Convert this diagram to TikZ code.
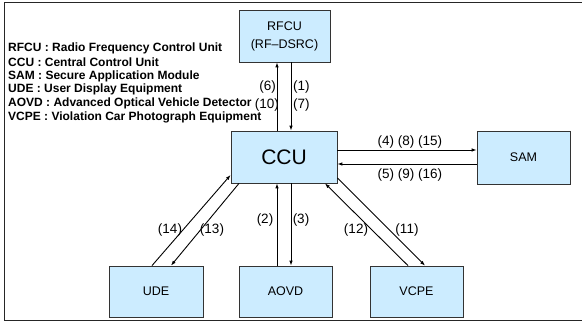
\documentclass[tikz,border=0pt]{standalone}
\usepackage{fontspec}
\setmainfont{Liberation Sans}
\usetikzlibrary{arrows.meta,calc}
\definecolor{boxfill}{RGB}{204,236,255}
\begin{document}
\begin{tikzpicture}[x=1pt,y=-1pt,
 box/.style={draw=black!80,line width=0.8pt,fill=boxfill,inner sep=0pt,align=center,font=\fontsize{12.5}{18}\selectfont},
 arr/.style={-{Latex[length=5pt,width=3.6pt]},line width=0.9pt},
 lbl/.style={font=\fontsize{13.5}{14}\selectfont,inner sep=0pt},
 leg/.style={font=\bfseries\fontsize{12}{12}\selectfont,anchor=west,inner sep=0pt},
 frame/.style={line width=1.6pt,black!85}]
\useasboundingbox (0,0) rectangle (582,324);
\clip (0,0) rectangle (582,324);
% frame
\draw[frame] (590,2.5) -- (4.5,2.5) -- (4.5,320.5) -- (590,320.5);
% legend
\node[leg] (l1) at (8,48) {RFCU : Radio Frequency Control Unit};
\node[leg] (l2) at (8,62) {CCU : Central Control Unit};
\node[leg] (l3) at (8,76) {SAM : Secure Application Module};
\node[leg] (l4) at (8,89) {UDE : User Display Equipment};
\node[leg] (l5) at (8,103) {AOVD : Advanced Optical Vehicle Detector};
\node[leg] (l6) at (8,117) {VCPE : Violation Car Photograph Equipment};
% boxes
\node[box,minimum width=91pt,minimum height=52pt] (rfcu) at (284.5,36) {RFCU\\(RF--DSRC)};
\node[box,minimum width=106pt,minimum height=52pt,font=\fontsize{21}{22}\selectfont] (ccu) at (284,157) {CCU};
\node[box,minimum width=93pt,minimum height=53pt] (sam) at (523.5,157.5) {SAM};
\node[box,minimum width=94pt,minimum height=51pt] (ude) at (156,291.5) {UDE};
\node[box,minimum width=93pt,minimum height=51pt] (aovd) at (285.5,291.5) {AOVD};
\node[box,minimum width=93pt,minimum height=51pt] (vcpe) at (416.5,291.5) {VCPE};
% RFCU <-> CCU
\draw[arr] ([xshift=-7pt]ccu.north) -- ([xshift=-7pt]ccu.north |- rfcu.south);
\draw[arr] ([xshift=7pt]ccu.north |- rfcu.south) -- ([xshift=7pt]ccu.north);
\node[lbl,anchor=east] (t6) at (276,87) {(6)};
\node[lbl,anchor=east] (t10) at (279,105) {(10)};
\node[lbl,anchor=west] (t1) at (293,87) {(1)};
\node[lbl,anchor=west] (t7) at (293,105) {(7)};
% CCU <-> SAM
\draw[arr] ([yshift=7pt]ccu.east) -- ([yshift=7pt]ccu.east -| sam.west);
\draw[arr] ([yshift=-7pt]ccu.east -| sam.west) -- ([yshift=-7pt]ccu.east);
\node[lbl] (t4) at (410,142) {(4) (8) (15)};
\node[lbl] (t5) at (410,175) {(5) (9) (16)};
% CCU <-> AOVD
\draw[arr] ([xshift=-7pt]ccu.south |- aovd.north) -- ([xshift=-7pt]ccu.south);
\draw[arr] ([xshift=7pt]ccu.south) -- ([xshift=7pt]ccu.south |- aovd.north);
\node[lbl] (t2) at (265,220) {(2)};
\node[lbl] (t3) at (301,220) {(3)};
% CCU <-> UDE
\draw[arr] ([xshift=-4pt]ude.north) -- ([yshift=-18pt]ccu.west);
\draw[arr] ([xshift=-45pt]ccu.south) -- ([xshift=15pt]ude.north);
\node[lbl] (t14) at (170,230) {(14)};
\node[lbl] (t13) at (212,230) {(13)};
% CCU <-> VCPE
\draw[arr] ([xshift=-8.5pt]vcpe.north) -- ([xshift=41pt]ccu.south);
\draw[arr] ([yshift=-21pt]ccu.east) -- ([xshift=8.5pt]vcpe.north);
\node[lbl] (t12) at (356,230) {(12)};
\node[lbl] (t11) at (407,230) {(11)};
\end{tikzpicture}
\end{document}
